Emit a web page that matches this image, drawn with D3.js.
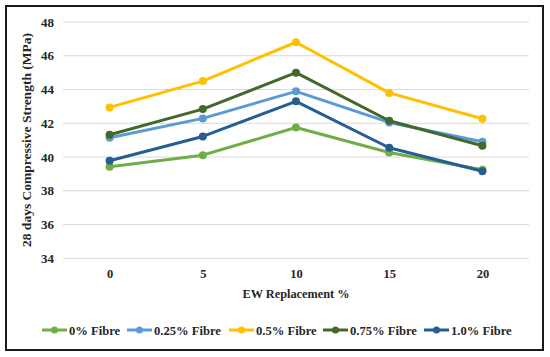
<!DOCTYPE html>
<html><head><meta charset="utf-8">
<script src="https://cdn.jsdelivr.net/npm/d3@7"></script>
<style>body{margin:0;background:#fff}svg{display:block}</style>
</head><body><svg id="c" width="550" height="357"></svg>
<script>
const categories = ["0","5","10","15","20"];
const seriesNames = ["0% Fibre","0.25% Fibre","0.5% Fibre","0.75% Fibre","1.0% Fibre"];
const fibre0 = [39.42,40.11,41.75,40.27,39.25];
const fibre025 = [41.14,42.29,43.89,42.05,40.9];
const fibre05 = [42.94,44.5,46.8,43.8,42.27];
const fibre075 = [41.32,42.84,45.0,42.15,40.67];
const fibre10 = [39.78,41.22,43.3,40.55,39.16];
const yTicks = [34,36,38,40,42,44,46,48];
const colors = ["#70AD47","#5B9BD5","#FFC000","#43682B","#255E91"];
const seriesData = [fibre0,fibre025,fibre05,fibre075,fibre10];
const FONT = "Liberation Serif";

const svg = d3.select("#c");
svg.append("rect").attr("x",6).attr("y",6).attr("width",537).attr("height",344)
  .attr("fill","#fff").attr("stroke","#1a1a1a").attr("stroke-width",2);

const x = d3.scalePoint().domain(categories).range([63,529]).padding(0.5);
const y = d3.scaleLinear().domain([34,48]).range([258.3,22]);

svg.append("g").selectAll("line").data(yTicks).join("line")
  .attr("x1",63).attr("x2",529).attr("y1",d=>y(d)).attr("y2",d=>y(d))
  .attr("stroke","#d9d9d9").attr("stroke-width",1);

const ya = svg.append("g").attr("transform","translate(54,0)")
  .call(d3.axisLeft(y).tickValues(yTicks).tickSize(0).tickPadding(0));
ya.select(".domain").remove();
ya.attr("font-family",FONT).attr("font-size",13).attr("font-weight","bold");
ya.selectAll("text").attr("fill","#262626");

const xa = svg.append("g").attr("transform","translate(0,266)")
  .call(d3.axisBottom(x).tickSize(0).tickPadding(3));
xa.select(".domain").remove();
xa.attr("font-family",FONT).attr("font-size",12.5).attr("font-weight","bold");
xa.selectAll("text").attr("fill","#262626");

function txt(sel){return sel.attr("font-family",FONT).attr("font-weight","bold").attr("fill","#262626");}

txt(svg.append("text")).attr("x",296).attr("y",298).attr("text-anchor","middle")
  .attr("font-size",12.3).text("EW Replacement %");
txt(svg.append("text")).attr("transform","translate(31,140) rotate(-90)").attr("text-anchor","middle")
  .attr("font-size",13.5).text("28 days Compressive Strength (MPa)");

const line = d3.line().x((d,i)=>x(categories[i])).y(d=>y(d));
seriesData.forEach((s,k)=>{
  const g = svg.append("g");
  g.append("path").attr("d",line(s)).attr("fill","none").attr("stroke",colors[k])
    .attr("stroke-width",3).attr("stroke-linejoin","round");
  g.selectAll("circle").data(s).join("circle")
    .attr("cx",(d,i)=>x(categories[i])).attr("cy",d=>y(d)).attr("r",4).attr("fill",colors[k]);
});

const legX = [42,127,229,323,424];
const lg = svg.append("g");
seriesNames.forEach((n,k)=>{
  const gx = legX[k], gy = 330;
  lg.append("line").attr("x1",gx).attr("x2",gx+25).attr("y1",gy).attr("y2",gy)
    .attr("stroke",colors[k]).attr("stroke-width",3);
  lg.append("circle").attr("cx",gx+12.5).attr("cy",gy).attr("r",3.5).attr("fill",colors[k]);
  txt(lg.append("text")).attr("x",gx+27).attr("y",gy+4.5).attr("font-size",12.6).text(n);
});
</script></body></html>
